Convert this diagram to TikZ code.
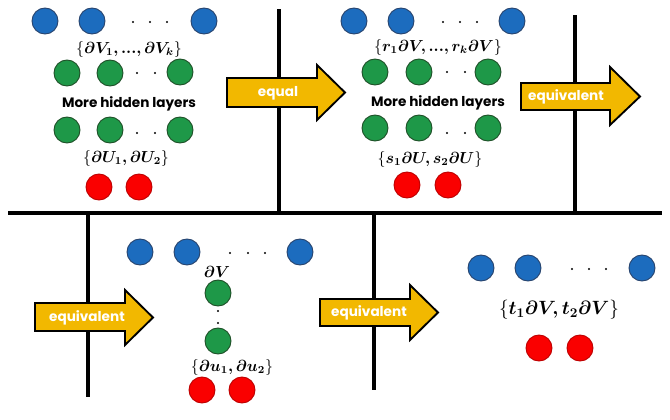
\documentclass[tikz,border=0pt]{standalone}
\usepackage{amsmath,bm}
\usepackage{fontspec}
\setsansfont{Poppins}
\definecolor{bfill}{RGB}{28,108,190}
\definecolor{bline}{RGB}{40,68,110}
\definecolor{gfill}{RGB}{30,152,72}
\definecolor{gline}{RGB}{30,80,40}
\definecolor{rfill}{RGB}{250,0,0}
\definecolor{rline}{RGB}{190,0,0}
\definecolor{gold}{RGB}{242,184,0}
\newcommand{\tdots}{\mathord{.}\mathord{.}\mathord{.}}
\tikzset{
  neur/.style={circle, minimum size=19.5pt, inner sep=0pt, line width=0.7pt},
  bn/.style={neur, fill=bfill, draw=bline},
  gn/.style={neur, fill=gfill, draw=gline},
  rn/.style={neur, fill=rfill, draw=rline},
  dotn/.style={circle, fill=black, inner sep=0pt, minimum size=1.6pt},
  lbl/.style={inner sep=0pt, font=\fontsize{12}{14}\selectfont},
  hid/.style={inner sep=0pt, font=\sffamily\bfseries\fontsize{10.2}{12}\selectfont},
  arrowbox/.style={fill=gold, draw=black, line width=1.4pt, line join=miter},
  arrtxt/.style={inner sep=0pt, text=white, font=\sffamily\bfseries\fontsize{10.2}{12}\selectfont},
  sep/.style={line width=2.3pt, black}
}
\begin{document}
\begin{tikzpicture}[x=0.75pt, y=-0.75pt]
\useasboundingbox (0,0) rectangle (670,419);
% separator lines
\coordinate (hl) at (8,213); \coordinate (hr) at (662,213);
\draw[sep] (hl) -- (hr);
\draw[sep] (279,9) -- (279,213);
\draw[sep] (575,15) -- (575,213);
\draw[sep] (88,213) -- (88,397);
\draw[sep] (374,213) -- (374,390);

% ---------- panel 1 ----------
\node[bn] (a1) at (45,21) {};
\node[bn] (a2) at (92,21) {};
\node[bn] (a3) at (204,21) {};
\node[dotn] (ad1) at (133,22) {}; \node[dotn] (ad2) at (150,22) {}; \node[dotn] (ad3) at (167,22) {};
\node[lbl] (al) at (129,49) {$\{\bm{\partial V_1,\tdots,\partial V_k}\}$};
\node[gn] (ag1) at (67,73) {};
\node[gn] (ag2) at (110,73) {};
\node[gn] (ag3) at (180,72) {};
\node[dotn] (agd1) at (137,73) {}; \node[dotn] (agd2) at (155,73) {};
\node[hid] (ah) at (129,104) {More hidden layers};
\node[gn] (ag4) at (67,130) {};
\node[gn] (ag5) at (110,130) {};
\node[gn] (ag6) at (180,130) {};
\node[dotn] (agd3) at (137,133) {}; \node[dotn] (agd4) at (155,133) {};
\node[lbl] (al2) at (126,158) {$\{\bm{\partial U_1,\partial U_2}\}$};
\node[rn] (ar1) at (99,187) {};
\node[rn] (ar2) at (139,187) {};

% ---------- panel 2 ----------
\node[bn] (b1) at (354,21) {};
\node[bn] (b2) at (401,21) {};
\node[bn] (b3) at (512,21) {};
\node[dotn] (bd1) at (443,22) {}; \node[dotn] (bd2) at (460,22) {}; \node[dotn] (bd3) at (477,22) {};
\node[lbl] (bl) at (438,47) {$\{\bm{r_1\partial V,\tdots,r_k\partial V}\}$};
\node[gn] (bg1) at (375,72) {};
\node[gn] (bg2) at (419,72) {};
\node[gn] (bg3) at (488,72) {};
\node[dotn] (bgd1) at (447,72) {}; \node[dotn] (bgd2) at (465,72) {};
\node[hid] (bh) at (438,103) {More hidden layers};
\node[gn] (bg4) at (375,128) {};
\node[gn] (bg5) at (419,128) {};
\node[gn] (bg6) at (488,128) {};
\node[dotn] (bgd3) at (447,133) {}; \node[dotn] (bgd4) at (465,133) {};
\node[lbl] (bl2) at (430,159) {$\{\bm{s_1\partial U,s_2\partial U}\}$};
\node[rn] (br1) at (407,185) {};
\node[rn] (br2) at (448,185) {};

% ---------- panel 3 ----------
\node[bn] (c1) at (140,252) {};
\node[bn] (c2) at (187,252) {};
\node[bn] (c3) at (300,252) {};
\node[dotn] (cd1) at (230,253) {}; \node[dotn] (cd2) at (248,253) {}; \node[dotn] (cd3) at (265,253) {};
\node[lbl] (cl) at (217,272) {$\bm{\partial V}$};
\node[gn] (cg1) at (218,293) {};
\node[dotn] (cvd1) at (218,311) {}; \node[dotn] (cvd2) at (218,323) {};
\node[gn] (cg2) at (218,341) {};
\node[lbl] (cl2) at (232,367) {$\{\bm{\partial u_1,\partial u_2}\}$};
\node[rn] (cr1) at (202,390) {};
\node[rn] (cr2) at (242,390) {};

% ---------- panel 4 ----------
\node[bn] (d1) at (481,268) {};
\node[bn] (d2) at (528,268) {};
\node[bn] (d3) at (642,268) {};
\node[dotn] (dd1) at (572,269) {}; \node[dotn] (dd2) at (589,269) {}; \node[dotn] (dd3) at (606,269) {};
\node[inner sep=0pt, font=\fontsize{14.6}{17}\selectfont] (dl) at (559,310) {$\{\bm{t_1\partial V,t_2\partial V}\}$};
\node[rn] (dr1) at (539,348) {};
\node[rn] (dr2) at (580,348) {};

% ---------- arrows ----------
\draw[arrowbox] (227,78) -- (317,78) -- (317,65) -- (345,92.5) -- (317,120) -- (317,107) -- (227,107) -- cycle;
\node[arrtxt] (t1) at (278,93) {equal};
\draw[arrowbox] (521,83) -- (610,83) -- (610,67) -- (640,96.5) -- (610,125) -- (610,110) -- (521,110) -- cycle;
\node[arrtxt] (t2) at (566,97) {equivalent};
\draw[arrowbox] (35,303) -- (125,303) -- (125,290) -- (153,317.5) -- (125,345) -- (125,331) -- (35,331) -- cycle;
\node[arrtxt] (t3) at (87,318) {equivalent};
\draw[arrowbox] (320,299) -- (410,299) -- (410,285) -- (438,312.5) -- (410,340) -- (410,326) -- (320,326) -- cycle;
\node[arrtxt] (t4) at (369,313) {equivalent};
\end{tikzpicture}
\end{document}
